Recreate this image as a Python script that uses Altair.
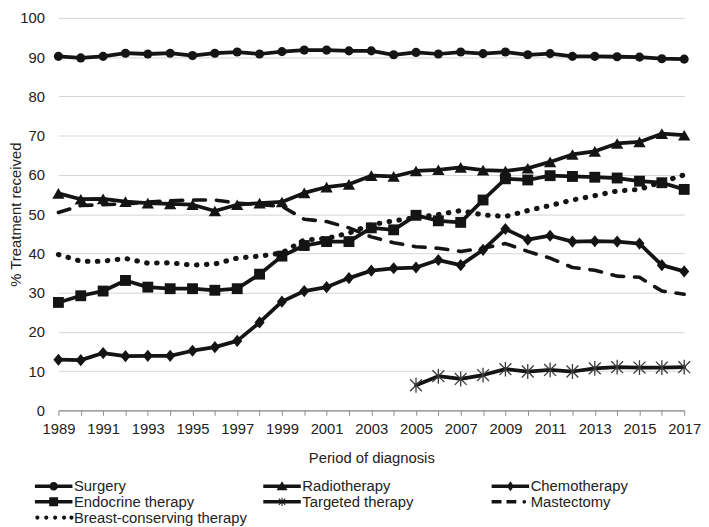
import altair as alt
import pandas as pd

# ---------------- data ----------------
years = list(range(1989, 2018))
surgery = [90.2, 89.8, 90.2, 91.0, 90.8, 91.0, 90.4, 91.0, 91.3, 90.8, 91.4, 91.8, 91.8, 91.6, 91.6,
           90.6, 91.2, 90.8, 91.3, 90.9, 91.3, 90.6, 90.9, 90.2, 90.2, 90.1, 90.0, 89.6, 89.5]
radiotherapy = [55.3, 53.8, 53.9, 53.2, 52.8, 52.6, 52.4, 50.8, 52.4, 52.8, 53.1, 55.4, 56.9, 57.6, 59.8,
                59.6, 61.0, 61.3, 61.9, 61.2, 61.0, 61.7, 63.3, 65.2, 66.0, 68.0, 68.4, 70.5, 70.1]
chemotherapy = [12.9, 12.8, 14.6, 13.8, 13.9, 13.9, 15.2, 16.1, 17.7, 22.4, 27.7, 30.4, 31.4, 33.7, 35.6,
                36.2, 36.4, 38.3, 37.0, 40.9, 46.2, 43.5, 44.5, 43.0, 43.1, 43.0, 42.5, 37.0, 35.4]
endocrine = [27.5, 29.2, 30.4, 33.1, 31.4, 31.0, 31.0, 30.6, 31.0, 34.7, 39.3, 42.0, 43.0, 43.0, 46.5,
             46.0, 49.7, 48.3, 47.9, 53.6, 59.0, 58.7, 59.8, 59.6, 59.4, 59.2, 58.4, 58.0, 56.3]
targeted_years = list(range(2005, 2018))
targeted = [6.4, 8.7, 8.0, 9.0, 10.5, 9.9, 10.3, 9.9, 10.7, 11.0, 10.9, 10.9, 11.0]
mastectomy = [50.4, 52.2, 52.4, 52.6, 53.1, 53.4, 53.6, 53.6, 52.8, 52.4, 52.0, 48.7, 48.1, 46.5, 44.2,
              42.7, 41.7, 41.3, 40.5, 41.3, 42.5, 40.5, 38.8, 36.4, 35.7, 34.2, 33.9, 30.4, 29.6]
bct = [39.7, 38.0, 38.0, 38.7, 37.5, 37.6, 37.0, 37.3, 38.8, 39.3, 40.1, 43.4, 43.8, 45.2, 47.3,
       48.3, 49.1, 49.9, 50.9, 49.8, 49.4, 50.9, 52.2, 53.6, 54.7, 55.9, 56.3, 58.2, 60.0]

series_names = ["Surgery", "Radiotherapy", "Chemotherapy", "Endocrine therapy",
                "Targeted therapy", "Mastectomy", "Breast-conserving therapy"]
y_ticks = [0, 10, 20, 30, 40, 50, 60, 70, 80, 90, 100]

rows = []
for name, xs, vals in [
    ("Surgery", years, surgery),
    ("Radiotherapy", years, radiotherapy),
    ("Chemotherapy", years, chemotherapy),
    ("Endocrine therapy", years, endocrine),
    ("Targeted therapy", targeted_years, targeted),
    ("Mastectomy", years, mastectomy),
    ("Breast-conserving therapy", years, bct),
]:
    for yr, v in zip(xs, vals):
        rows.append({"year": yr, "pct": v, "series": name})
df = pd.DataFrame(rows)

# ---------------- legend symbol paths (line + marker) ----------------
K = 1.0

def f(v):
    return round(v * K, 3)

def rect(x1, x2, h):
    return f"M{f(x1)},{f(-h)}L{f(x2)},{f(-h)}L{f(x2)},{f(h)}L{f(x1)},{f(h)}Z"

def circ(cx, r):
    return (f"M{f(cx + r)},0A{f(r)},{f(r)} 0 1,1 {f(cx - r)},0"
            f"A{f(r)},{f(r)} 0 1,1 {f(cx + r)},0Z")

def poly(pts):
    return "M" + "L".join(f"{f(a)},{f(b)}" for a, b in pts) + "Z"

BAR = rect(-2.53, 2.53, 0.24)
leg_paths = [
    BAR + circ(0, 0.58),
    BAR + poly([(0, -0.68), (0.74, 0.53), (-0.74, 0.53)]),
    BAR + poly([(0, -0.66), (0.48, 0), (0, 0.66), (-0.48, 0)]),
    BAR + poly([(-0.6, -0.6), (0.6, -0.6), (0.6, 0.6), (-0.6, 0.6)]),
    BAR + rect(-0.07, 0.07, 0.56)
        + poly([(-0.48, -0.39), (-0.39, -0.48), (0.48, 0.39), (0.39, 0.48)])
        + poly([(0.39, -0.48), (0.48, -0.39), (-0.39, 0.48), (-0.48, 0.39)]),
    rect(-2.53, -1.2, 0.24) + rect(-0.53, 0.8, 0.24) + circ(1.87, 0.25),
    circ(-2.2, 0.28) + circ(-1.0, 0.28) + circ(0.2, 0.28) + circ(1.4, 0.28) + circ(2.4, 0.28),
]

INK = "#141414"
TXT = "#222222"
W, H = 633, 397

x_enc = alt.X(
    "year:Q",
    scale=alt.Scale(domain=[1989, 2017], nice=False, zero=False),
    axis=alt.Axis(
        values=years, format="d",
        labelExpr="datum.value % 2 == 1 ? datum.label : ''",
        labelOverlap=False, labelFlush=False,
        title="Period of diagnosis", grid=False,
        tickSize=5, tickColor="#8c8c8c", domainColor="#8c8c8c", domainWidth=1.3,
        labelPadding=6.5, labelFontSize=15, labelColor=TXT,
        titleFontSize=15, titleFontWeight="normal", titleColor=TXT, titleY=40.5,
    ),
)
y_enc = alt.Y(
    "pct:Q",
    scale=alt.Scale(domain=[0, 100], nice=False),
    axis=alt.Axis(
        values=y_ticks, title="% Treatment received", ticks=False, domain=False,
        gridColor="#d4d4d4", gridWidth=1,
        labelPadding=14, labelFontSize=15, labelColor=TXT,
        titleFontSize=15, titleFontWeight="normal", titleColor=TXT, titleX=-35.3,
    ),
)

base = alt.Chart(df)
solid = base.transform_filter(
    alt.FieldOneOfPredicate(field="series", oneOf=series_names[:5])
).mark_line(strokeWidth=3.8, color=INK, strokeCap="round", strokeJoin="round").encode(
    x=x_enc, y=y_enc, detail="series:N"
)
dashed = base.transform_filter(alt.datum.series == "Mastectomy").mark_line(
    strokeWidth=3.6, color=INK, strokeDash=[12, 11], strokeCap="round", strokeJoin="round"
).encode(x=x_enc, y=y_enc)
dotted = base.transform_filter(alt.datum.series == "Breast-conserving therapy").mark_line(
    strokeWidth=5.2, color=INK, strokeDash=[0.5, 9.6], strokeCap="round", strokeJoin="round"
).encode(x=x_enc, y=y_enc)

def pts(name, shape, size):
    return base.transform_filter(alt.datum.series == name).mark_point(
        shape=shape, size=size, filled=True, opacity=1, color=INK, strokeWidth=0
    ).encode(x=x_enc, y=y_enc)

p_surg = pts("Surgery", "circle", 85)
p_radio = pts("Radiotherapy", "triangle-up", 155)
p_chemo = pts("Chemotherapy", "M0,-1.2L1,0L0,1.2L-1,0Z", 105)
p_endo = pts("Endocrine therapy", "square", 121)
p_targ = base.transform_filter(alt.datum.series == "Targeted therapy").mark_point(
    shape="M-1,-1L1,1M-1,1L1,-1M0,-1.25L0,1.25", size=144, filled=False,
    opacity=1, color="#3a3a3a", strokeWidth=1.3
).encode(x=x_enc, y=y_enc)

legend_layer = base.transform_filter("datum.pct < -1").mark_point(
    filled=True, opacity=1, color=INK, strokeWidth=0
).encode(
    x=x_enc, y=y_enc,
    shape=alt.Shape(
        "series:N",
        scale=alt.Scale(domain=series_names, range=leg_paths),
        legend=alt.Legend(
            title=None, orient="none", legendX=-23.3, legendY=466,
            columns=3, direction="horizontal", gridAlign="all",
            symbolSize=225, symbolOffset=11, labelOffset=13,
            symbolStrokeWidth=0, symbolFillColor=INK, symbolOpacity=1,
            labelFontSize=15, labelColor=TXT, labelLimit=400,
            rowPadding=-4.5, columnPadding=15, padding=0,
        ),
    ),
)

chart = alt.layer(
    solid, dashed, dotted, p_surg, p_radio, p_chemo, p_endo, p_targ, legend_layer
).properties(width=W, height=H, padding=0).configure(
    font="Liberation Sans", background="white"
).configure_view(stroke=None)

chart.save("out.html", embed_options={"renderer": "svg", "actions": False})
